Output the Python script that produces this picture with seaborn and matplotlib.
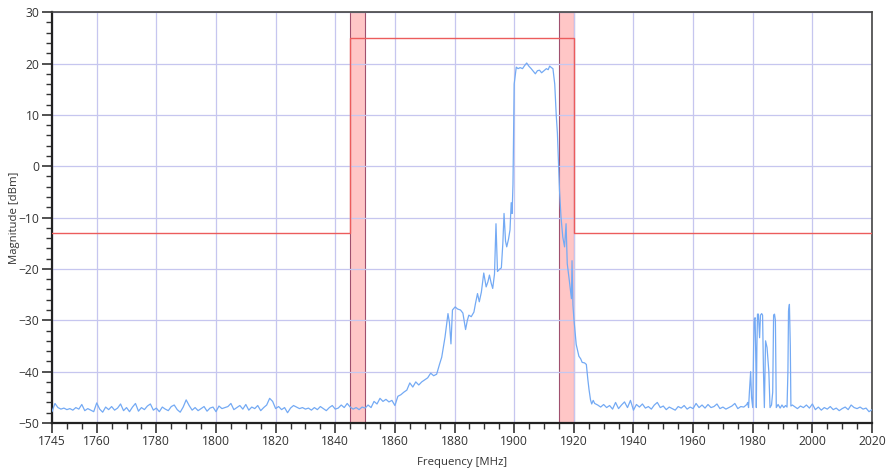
import numpy as np
import pandas as pd
import matplotlib
matplotlib.use('Agg')
import matplotlib.pyplot as plt
from matplotlib.ticker import MultipleLocator
import seaborn as sns

# --- spectrum trace ---
# noise floor below the band (1 MHz steps)
freq_low = np.arange(1745, 1846)
mag_low = [-47.8, -46.2, -47.0, -47.3, -47.1, -47.4, -47.2, -47.5, -47.0, -47.3,
           -46.4, -47.6, -47.2, -47.5, -47.8, -46.1, -47.3, -47.9, -46.9, -47.4,
           -46.8, -47.5, -47.1, -46.3, -47.6, -47.0, -47.8, -46.9, -46.2, -47.7,
           -47.0, -47.4, -46.7, -46.3, -47.5, -47.1, -47.8, -46.9, -47.3, -47.6,
           -46.8, -46.5, -47.4, -47.9, -46.9, -45.5, -46.6, -47.5, -47.0, -47.6,
           -47.2, -46.8, -47.7, -47.1, -46.9, -47.8, -46.7, -47.2, -47.0, -46.8,
           -46.2, -47.4, -47.0, -46.6, -47.3, -46.4, -47.5, -46.9, -47.2, -46.6,
           -47.6, -47.0, -46.5, -45.2, -45.8, -47.2, -46.8, -47.4, -47.0, -48.0,
           -47.1, -46.6, -46.9, -47.2, -47.0, -47.3, -47.1, -47.5, -47.0, -47.4,
           -46.8, -47.2, -47.6, -47.0, -46.6, -47.3, -47.1, -46.5, -47.0, -46.2,
           -46.9]

# transmitted carrier and its skirts
freq_mid = [1846, 1847, 1848, 1849, 1850, 1851, 1852, 1853, 1854, 1855,
            1856, 1857, 1858, 1859, 1860, 1861, 1862, 1863, 1864, 1865,
            1866, 1867, 1868, 1869, 1870, 1871, 1872, 1873, 1874, 1875,
            1875.7, 1876.3, 1876.8, 1877.3, 1877.8, 1878.3, 1878.8, 1879.3, 1880.2, 1881,
            1882, 1882.8, 1883.7, 1884.3, 1884.8, 1885.6, 1886.5, 1887, 1887.7, 1888.3,
            1889, 1889.8, 1890.6, 1891.2, 1891.7, 1892.3, 1892.8, 1893.4, 1893.9, 1894.4,
            1895.2, 1895.7, 1896.2, 1896.6, 1897.1, 1897.5, 1898.1, 1898.6, 1899.0, 1899.3,
            1899.6, 1900.0, 1900.7, 1901.3, 1902.0, 1902.8, 1903.5, 1904.2, 1904.9, 1905.7,
            1906.4, 1907.1, 1907.8, 1908.5, 1909.2, 1910.0, 1910.8, 1911.4, 1911.9, 1912.5,
            1913.0, 1913.6, 1914.1, 1914.5, 1915.2, 1915.7, 1916.3, 1916.9, 1917.4, 1917.8,
            1918.5, 1919.2, 1919.4, 1919.7, 1920.0, 1920.8, 1921.7, 1922.3, 1922.8, 1923.6,
            1924.2, 1924.7, 1925.1, 1925.6, 1926.0, 1926.5, 1927.0]
mag_mid = [-47.3, -47.0, -47.4, -46.9, -47.1, -46.5, -47.0, -45.8, -46.3, -45.2,
           -45.8, -45.4, -45.9, -45.6, -46.6, -44.8, -44.5, -44.0, -43.6, -42.2,
           -43.0, -42.0, -42.6, -42.0, -41.6, -41.2, -40.3, -40.8, -40.5, -38.5,
           -37.2, -35.0, -33.3, -31.0, -28.7, -30.5, -34.6, -28.0, -27.4, -27.8,
           -28.0, -28.6, -31.8, -30.0, -29.0, -29.3, -28.4, -26.8, -24.8, -26.4,
           -24.5, -20.8, -23.5, -22.5, -21.2, -22.8, -23.8, -21.0, -11.2, -20.5,
           -20.0, -19.8, -15.0, -9.2, -14.6, -15.7, -14.2, -12.4, -7.1, -9.2,
           -3.5, 16.0, 19.3, 19.0, 19.2, 19.0, 19.6, 20.1, 19.5, 19.0,
           18.5, 18.0, 18.6, 18.7, 18.2, 18.6, 19.0, 18.8, 19.5, 19.2,
           19.0, 16.0, 10.0, 6.4, -4.7, -9.9, -13.8, -15.7, -11.2, -19.0,
           -22.3, -25.8, -18.4, -27.0, -29.5, -34.7, -37.0, -37.5, -38.2, -38.3,
           -38.6, -41.5, -43.5, -45.5, -46.3, -45.6, -46.2]

# noise floor above the band
freq_gap = np.arange(1928, 1978)
mag_gap = [-46.5, -46.9, -46.4, -47.0, -46.6, -47.3, -46.0, -47.2, -46.5, -45.9,
           -47.0, -45.6, -47.5, -46.4, -46.9, -46.3, -47.1, -46.8, -47.3, -46.5,
           -46.0, -47.0, -46.7, -47.4, -46.9, -47.2, -47.5, -46.8, -47.1, -46.6,
           -47.3, -46.9, -47.2, -46.2, -47.0, -46.5, -47.1, -46.4, -47.0, -46.8,
           -46.3, -47.2, -46.9, -47.3, -47.0, -46.7, -46.2, -47.2, -46.8, -46.9]

# spurious emissions near 1980-1993 MHz
freq_spur = [1978.0, 1978.3, 1978.6, 1978.9, 1979.3, 1979.6, 1980.0, 1980.3, 1980.5, 1980.8,
             1981.1, 1981.2, 1981.4, 1981.6, 1981.9, 1982.3, 1982.6, 1983.0, 1983.3, 1983.6,
             1983.9, 1984.3, 1984.8, 1985.4, 1985.8, 1986.3, 1986.7, 1987.0, 1987.3, 1987.6,
             1987.9, 1988.5, 1989.2, 1989.8, 1990.4, 1991.0, 1991.5, 1991.8, 1992.0, 1992.3,
             1992.6, 1992.8, 1993.3]
mag_spur = [-46.4, -46.0, -47.0, -43.8, -40.0, -45.0, -47.0, -35.0, -29.8, -29.5,
            -40.0, -47.0, -35.0, -28.8, -28.8, -33.4, -29.0, -28.7, -29.0, -40.0,
            -47.0, -34.0, -35.3, -40.0, -47.0, -46.5, -44.0, -29.0, -28.8, -30.0,
            -47.0, -46.4, -47.1, -46.5, -47.0, -46.6, -46.9, -40.0, -28.2, -26.9,
            -35.0, -46.7, -46.5]

freq_high = np.arange(1994, 2021)
mag_high = [-46.8, -47.2, -46.7, -47.0, -46.5, -47.1, -46.3, -47.4, -46.9, -47.5,
            -47.0, -47.3, -46.8, -47.4, -47.1, -47.6, -47.2, -46.9, -47.4, -46.5,
            -47.0, -47.2, -46.9, -47.3, -47.1, -47.8, -47.4]

# spectrum emission mask
mask_freq = [1745, 1845, 1845, 1920, 1920, 2020]
mask_level = [-13, -13, 25, 25, -13, -13]

# guard bands
band_start = [1845, 1915]
band_stop = [1850, 1920]

trace = pd.DataFrame({
    'freq': np.concatenate([freq_low, freq_mid, freq_gap, freq_spur, freq_high]),
    'mag': np.concatenate([mag_low, mag_mid, mag_gap, mag_spur, mag_high]),
})
mask = pd.DataFrame({'freq': mask_freq, 'level': mask_level})

sns.set_style('white')
plt.rcParams['font.family'] = ['Open Sans', 'DejaVu Sans']

fig = plt.figure(figsize=(8.87, 4.68), dpi=100)
ax = fig.add_axes([0.0586, 0.0962, 0.9245, 0.8778])

for lo, hi in zip(band_start, band_stop):
    ax.axvspan(lo, hi, facecolor='#ffc6c6', edgecolor='#a0506e', lw=0.8, zorder=0.5)

ax.grid(True, which='major', color='#c6c6ef', lw=0.9, zorder=1)
ax.set_axisbelow(True)

sns.lineplot(data=trace, x='freq', y='mag', estimator=None, sort=False,
             color='#74aaf4', lw=0.9, ax=ax, zorder=3)
sns.lineplot(data=mask, x='freq', y='level', estimator=None, sort=False,
             color='#ec5c5c', lw=1.0, ax=ax, zorder=4)

ax.set_xlim(1745, 2020)
ax.set_ylim(-50, 30)
ax.set_xticks([1745] + list(range(1760, 2021, 20)))
ax.xaxis.set_minor_locator(MultipleLocator(5))
ax.yaxis.set_major_locator(MultipleLocator(10))
ax.yaxis.set_minor_locator(MultipleLocator(2))
ax.tick_params(which='major', direction='out', length=7, width=1.2, color='#333333',
               labelsize=8.7, labelcolor='#333333', bottom=True, left=True, pad=2)
ax.tick_params(which='minor', direction='out', length=4, width=1.0, color='#333333',
               bottom=True, left=True)

for side in ['left', 'bottom']:
    ax.spines[side].set_color('#222222')
    ax.spines[side].set_linewidth(1.6)
for side in ['top', 'right']:
    ax.spines[side].set_color('#444444')
    ax.spines[side].set_linewidth(1.2)

ax.set_xlabel('Frequency [MHz]', fontsize=8.2, color='#333333', labelpad=6)
ax.set_ylabel('Magnitude [dBm]', fontsize=8.2, color='#333333')
ax.yaxis.set_label_coords(-0.039, 0.5)

fig.savefig('out.png', dpi=100, facecolor='white')
